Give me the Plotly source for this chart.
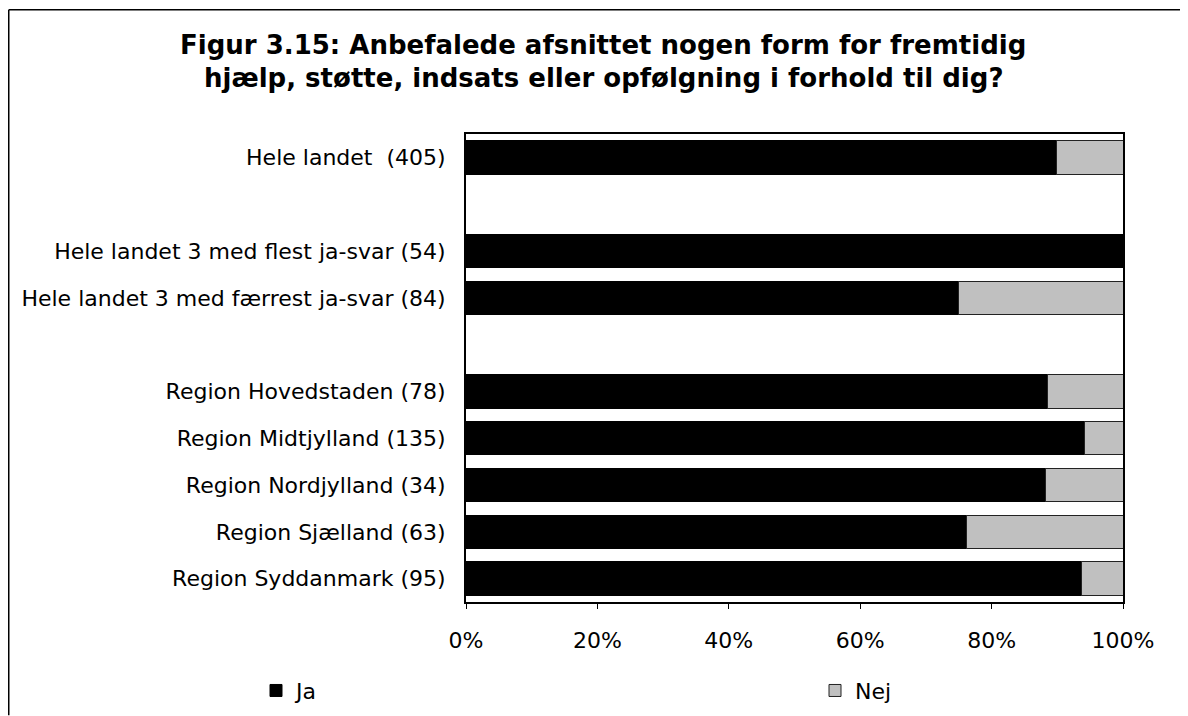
import plotly.graph_objects as go

categories = [
    "Hele landet  (405)",
    " ",
    "Hele landet 3 med flest ja-svar (54)",
    "Hele landet 3 med færrest ja-svar (84)",
    "  ",
    "Region Hovedstaden (78)",
    "Region Midtjylland (135)",
    "Region Nordjylland (34)",
    "Region Sjælland (63)",
    "Region Syddanmark (95)",
]
ja = [0.899, None, 1.0, 0.75, None, 0.885, 0.941, 0.882, 0.762, 0.937]
nej = [0.101, None, 0.0, 0.25, None, 0.115, 0.059, 0.118, 0.238, 0.063]
x_ticks = [0, 0.2, 0.4, 0.6, 0.8, 1.0]
x_ticklabels = ["0%", "20%", "40%", "60%", "80%", "100%"]
title_lines = [
    "Figur 3.15: Anbefalede afsnittet nogen form for fremtidig",
    "hjælp, støtte, indsats eller opfølgning i forhold til dig?",
]

FONT = "DejaVu Sans"
W, H = 1188, 716
L, R, T, B = 458, 73, 126, 115
PW, PH = W - L - R, H - T - B


def px(xf):
    return (xf - L) / PW


def py(yf):
    return (H - B - yf) / PH


fig = go.Figure()
fig.add_trace(go.Bar(
    y=categories, x=ja, name="Ja", orientation="h", legend="legend",
    marker=dict(color="#000000", line=dict(color="#000000", width=1)),
))
fig.add_trace(go.Bar(
    y=categories, x=nej, name="Nej", orientation="h", legend="legend2",
    marker=dict(color="#C0C0C0", line=dict(color="#222222", width=1)),
))

annotations = [
    dict(text="<b>%s</b>" % line, xref="paper", yref="paper",
         x=px(595), y=py(yc), xanchor="center", yanchor="middle",
         showarrow=False, font=dict(family=FONT, size=26, color="black"))
    for line, yc in zip(title_lines, [36, 69])
]

fig.update_layout(
    barmode="stack",
    bargap=0.285,
    width=W, height=H,
    margin=dict(l=L, r=R, t=T, b=B),
    paper_bgcolor="white", plot_bgcolor="white",
    font=dict(family=FONT, size=22, color="black"),
    showlegend=True,
    legend=dict(
        x=px(248), xanchor="left", y=py(691), yanchor="middle",
        font=dict(family=FONT, size=22, color="black"),
        bgcolor="rgba(0,0,0,0)",
    ),
    legend2=dict(
        x=px(807), xanchor="left", y=py(691), yanchor="middle",
        font=dict(family=FONT, size=22, color="black"),
        bgcolor="rgba(0,0,0,0)",
    ),
    annotations=annotations,
    xaxis=dict(
        range=[0, 1], tickvals=x_ticks, ticktext=x_ticklabels,
        showgrid=False, zeroline=False,
        showline=True, linecolor="black", linewidth=2, mirror=True,
        ticks="outside", ticklen=5, tickcolor="black", tickwidth=1,
        ticklabelstandoff=13,
        fixedrange=True,
    ),
    yaxis=dict(
        type="category", categoryorder="array", categoryarray=categories,
        autorange="reversed",
        showgrid=False, zeroline=False,
        showline=True, linecolor="black", linewidth=2, mirror=True,
        ticks="", ticklabelstandoff=14,
        fixedrange=True,
    ),
    shapes=[
        dict(type="line", xref="paper", yref="paper",
             x0=px(0.75), x1=px(W), y0=py(0.0), y1=py(0.0),
             line=dict(color="black", width=1.5)),
        dict(type="line", xref="paper", yref="paper",
             x0=px(0.75), x1=px(0.75), y0=py(0.0), y1=py(H),
             line=dict(color="black", width=1.5)),
    ],
)

fig.write_html("out.html")
